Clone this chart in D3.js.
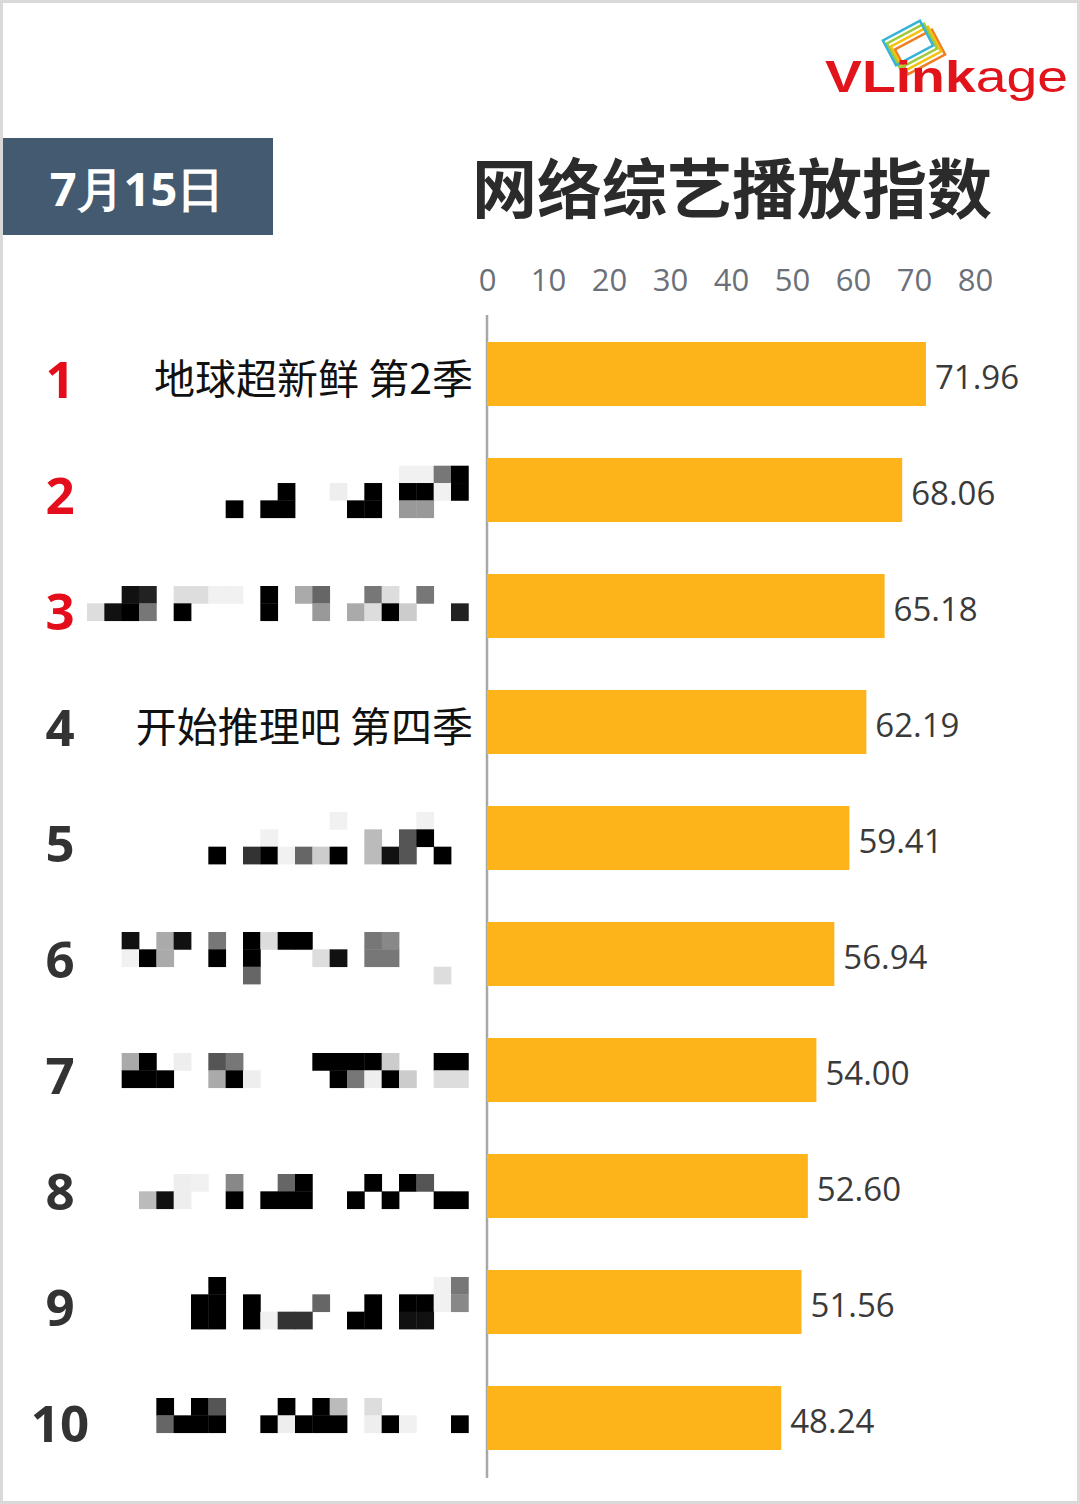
<!DOCTYPE html>
<html><head><meta charset="utf-8">
<script src="https://cdn.jsdelivr.net/npm/d3@7"></script>
<style>html,body{margin:0;padding:0;background:#fff;}svg{display:block;}</style>
</head><body>
<svg id="chart" width="1080" height="1504"></svg>
<script>
// ---- data ----
const ranks = ["1","2","3","4","5","6","7","8","9","10"];
const categories = ["地球超新鲜 第2季","","","开始推理吧 第四季","","","","","",""];
const values = [71.96,68.06,65.18,62.19,59.41,56.94,54.00,52.60,51.56,48.24];
const tickValues = [0,10,20,30,40,50,60,70,80];
const dateLabel = "7月15日";
const titleText = "网络综艺播放指数";
const brandBold = "VLink";
const brandLight = "age";
// pixelated (obscured) names: grey level per cell, '.' = empty
const mosaicMasks = [
  null,
  {off:-24.3, rows:["..................ff70.","...........0..e.0.00f0.","........0.00...00.99..."]},
  {off:-20, rows:["..12.ddff.0.a6..7d.7...","d107.0....0..9.ad0c..2."]},
  null,
  {off:-26, rows:["..............f....f...","..........f.....b.50...",".......0.30f6c0.b15.0.."]},
  {off:-22, rows:["..1.a1.7.0d00...78.....","..f0a..0.0...d1.77.....",".........6..........d.."]},
  {off:-17, rows:["..a0.e.57....0000c..00.","..000..a0e....07e0c.dd."]},
  {off:-12, rows:[".....ef.8..60...0.05...","...b1e..0.000..0.0..00."]},
  {off:-25, rows:[".......0............f7.","......00.0...6..0.00f8.","......00.0f33..00.11..."]},
  {off:-20, rows:["....0.05...0.0b.d......","....6000..0e000.e0f..0."]}
];

const svg = d3.select("#chart");
const W = 1080, H = 1504;
const numFont = "'Open Sans','Noto Sans',sans-serif";
const cjkFont = "'Noto Sans CJK SC','Noto Sans',sans-serif";

// frame
svg.append("rect").attr("x",1.5).attr("y",1.5).attr("width",W-3).attr("height",H-3)
  .attr("fill","#fff").attr("stroke","#d9d9d9").attr("stroke-width",3);

// logo
const logo = svg.append("g");
const iconColors = ["#ef7d22","#f4c20d","#9dcb3b","#36b4d8"];
iconColors.forEach((c,i)=>{
  logo.append("rect")
    .attr("x",-21).attr("y",-14).attr("width",42).attr("height",28)
    .attr("fill","none").attr("stroke",c).attr("stroke-width",2.5)
    .attr("transform",`translate(${920-i*4},${52-i*3}) rotate(-28)`);
});
const brand = logo.append("text").attr("x",825).attr("y",92)
  .attr("font-family","'Liberation Sans',Arial,sans-serif").attr("font-size",45)
  .attr("fill","#e1141c").attr("textLength",243).attr("lengthAdjust","spacingAndGlyphs");
brand.append("tspan").attr("font-weight","bold").text(brandBold);
brand.append("tspan").attr("font-weight","normal").text(brandLight);

// date box
svg.append("rect").attr("x",3).attr("y",138).attr("width",270).attr("height",97).attr("fill","#445a71");
svg.append("text").attr("x",137).attr("y",188).attr("text-anchor","middle").attr("dominant-baseline","central")
  .attr("font-family",numFont).attr("font-weight","bold").attr("font-size",47).attr("fill","#fff")
  .text(dateLabel);

// title
svg.append("text").attr("x",732).attr("y",185).attr("text-anchor","middle").attr("dominant-baseline","central")
  .attr("font-family",cjkFont).attr("font-weight","bold").attr("font-size",65).attr("fill","#2b2b2b")
  .text(titleText);

// scales
const x = d3.scaleLinear().domain([0,80]).range([487,975]);
const y = d3.scaleBand().domain(ranks).range([316,1476]).paddingInner(0.448).paddingOuter(0.224);

// top axis labels
const axis = svg.append("g").attr("transform","translate(0,291)")
  .call(d3.axisTop(x).tickValues(tickValues).tickSize(0).tickPadding(0));
axis.select(".domain").remove();
axis.selectAll("text").attr("font-family",numFont).attr("font-size",31).attr("fill","#6b7078");

// vertical baseline
svg.append("line").attr("x1",x(0)).attr("x2",x(0)).attr("y1",315).attr("y2",1478)
  .attr("stroke","#a8a8a8").attr("stroke-width",2.5);

// bars
svg.append("g").selectAll("rect").data(values).join("rect")
  .attr("x",x(0)).attr("y",(d,i)=>y(ranks[i]))
  .attr("width",d=>x(d)-x(0)).attr("height",y.bandwidth())
  .attr("fill","#fdb41b");

// value labels
svg.append("g").selectAll("text").data(values).join("text")
  .attr("x",d=>x(d)+9).attr("y",(d,i)=>y(ranks[i])+y.bandwidth()/2+2)
  .attr("dominant-baseline","central")
  .attr("font-family",numFont).attr("font-size",33).attr("fill","#3a3a3a")
  .text(d=>d.toFixed(2));

// rank numbers
svg.append("g").selectAll("text").data(ranks).join("text")
  .attr("x",60).attr("y",d=>y(d)+y.bandwidth()/2+4)
  .attr("text-anchor","middle").attr("dominant-baseline","central")
  .attr("font-family",numFont).attr("font-weight","bold").attr("font-size",51)
  .attr("fill",(d,i)=>i<3?"#e30d1b":"#333")
  .text(d=>d);

// category labels
svg.append("g").selectAll("text").data(categories).join("text")
  .attr("x",473).attr("y",(d,i)=>y(ranks[i])+y.bandwidth()/2+2)
  .attr("text-anchor","end").attr("dominant-baseline","central")
  .attr("font-family",cjkFont).attr("font-size",41).attr("fill","#111")
  .text(d=>d);

// mosaic (obscured names)
const cell = 52/3, mx0 = 87;
const mg = svg.append("g");
mosaicMasks.forEach((m,i)=>{
  if(!m) return;
  const cy = y(ranks[i])+y.bandwidth()/2;
  m.rows.forEach((row,r)=>{
    row.split("").forEach((ch,k)=>{
      if(ch===".") return;
      const col = ch==="f" ? "#f1f1f1" : "#"+ch.repeat(6);
      mg.append("rect").attr("x",mx0+k*cell).attr("y",cy+m.off+r*cell)
        .attr("width",cell+0.4).attr("height",cell+0.4).attr("fill",col);
    });
  });
});
</script>
</body></html>
